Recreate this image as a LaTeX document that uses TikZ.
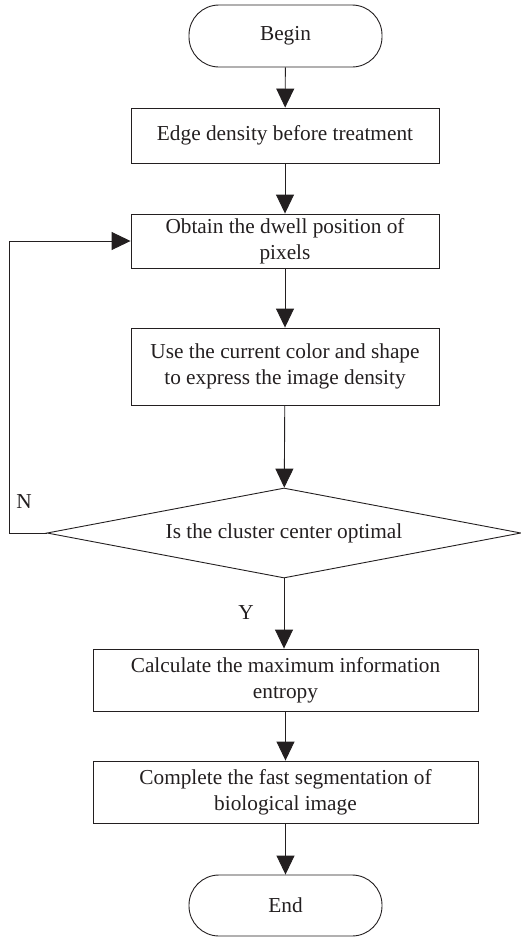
\documentclass[tikz,border=0pt]{standalone}
\usepackage{fontspec}
\setmainfont{Liberation Serif}
\usetikzlibrary{arrows.meta,shapes.geometric}
\definecolor{ink}{HTML}{231F20}
\begin{document}
\begin{tikzpicture}[x=1pt,y=1pt,
  every node/.style={text=ink, font=\fontsize{21.3}{25.7}\selectfont},
  procbox/.style={draw=ink, line width=0.9pt, rectangle, align=center, inner sep=0pt, minimum width=308pt},
  widebox/.style={procbox, minimum width=385pt, minimum height=62pt},
  term/.style={draw=ink, line width=0.9pt, rectangle, rounded corners=30pt, minimum width=193pt, minimum height=62pt, inner sep=0pt},
  decision/.style={draw=ink, line width=0.9pt, diamond, minimum width=474pt, minimum height=90pt, inner sep=0pt, aspect=5},
  flow/.style={draw=ink, line width=0.9pt, -{Triangle[width=18pt,length=19pt]}},
  lbl/.style={font=\fontsize{21.3}{25}\selectfont}
]
\useasboundingbox (0,0) rectangle (521,-937);
\node[term] (begin) at (285.5,-36) {Begin};
\node[procbox, minimum height=55pt] (b1) at (285,-135.5) {Edge density before treatment};
\node[procbox, minimum height=54pt] (b2) at (285,-241) {Obtain the dwell position of\\pixels};
\node[procbox, minimum height=77pt] (b3) at (285,-366.5) {Use the current color and shape\\to express the image density};
\node[decision] (dia) at (284,-533) {Is the cluster center optimal};
\node[widebox] (b4) at (285.5,-680) {Calculate the maximum information\\entropy};
\node[widebox] (b5) at (285.5,-792) {Complete the fast segmentation of\\biological image};
\node[term, minimum height=61pt] (end) at (285.5,-905.5) {End};
\coordinate (fb) at (9,-533);
\node[lbl] (n) at (24,-502) {N};
\node[lbl] (y) at (246,-613) {Y};
\draw[flow] (begin) -- (b1);
\draw[flow] (b1) -- (b2);
\draw[flow] (b2) -- (b3);
\draw[flow] (b3) -- (dia);
\draw[flow] (dia) -- (b4.north -| dia.south);
\draw[flow] (b4) -- (b5);
\draw[flow] (b5) -- (end);
\draw[flow] (dia.west) -- (fb) |- (b2.west);
\end{tikzpicture}
\end{document}
